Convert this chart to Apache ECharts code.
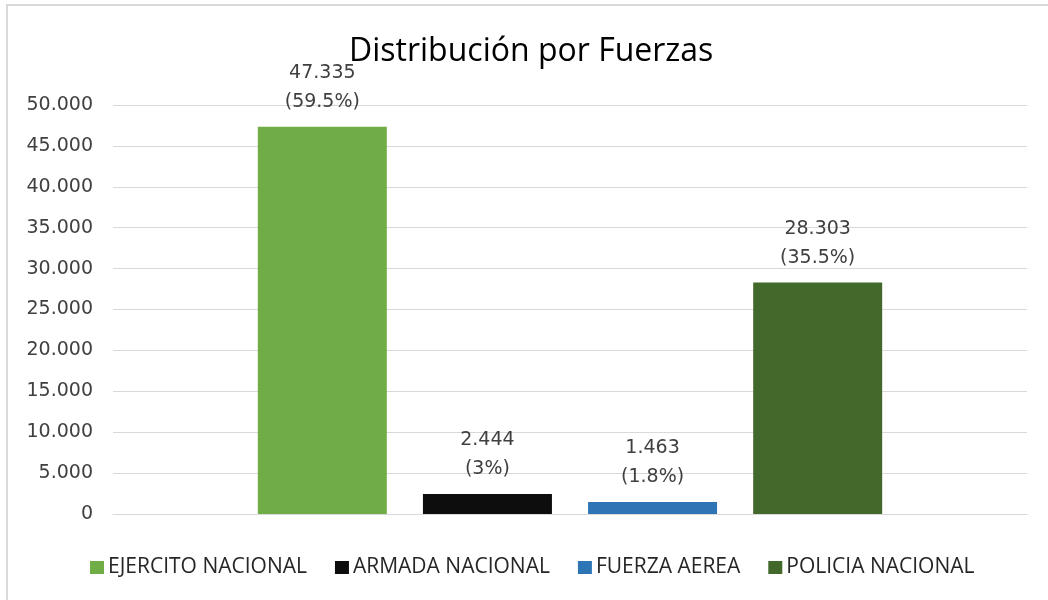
<!DOCTYPE html>
<html><head><meta charset="utf-8">
<script src="https://cdn.jsdelivr.net/npm/echarts@6/dist/echarts.min.js"></script>
<style>html,body{margin:0;padding:0;background:#fff}#c{width:1048px;height:600px}</style>
</head><body><div id="c"></div>
<script>
const seriesNames = ['EJERCITO NACIONAL', 'ARMADA NACIONAL', 'FUERZA AEREA', 'POLICIA NACIONAL'];
const values = [47335, 2444, 1463, 28303];
const percents = ['59.5%', '3%', '1.8%', '35.5%'];
const colors = ['#70ad47', '#0d0d0d', '#2e75b6', '#43682b'];
const titleText = 'Distribución por Fuerzas';

function fmt(v) { return String(v).replace(/\B(?=(\d{3})+(?!\d))/g, '.'); }

const font = '"Open Sans", "Noto Sans", sans-serif';
const numFont = '"DejaVu Sans", sans-serif';
const chart = echarts.init(document.getElementById('c'));
chart.setOption({
  animation: false,
  title: { text: titleText, left: 344, top: 31, textStyle: { fontFamily: font, fontSize: 32, fontWeight: 'normal', color: '#000' } },
  graphic: [
    { type: 'rect', shape: { x: 7, y: 5, width: 1100, height: 700 }, style: { fill: 'none', stroke: '#d9d9d9', lineWidth: 2 }, silent: true }
  ],
  legend: {
    top: 552, left: 85, itemWidth: 14, itemHeight: 13, itemGap: 28, icon: 'rect',
    textStyle: { fontFamily: font, fontSize: 21, color: '#262626', padding: [0, 0, 0, -1] }
  },
  grid: { left: 113, right: 21, top: 105, bottom: 86, containLabel: false },
  xAxis: { type: 'category', data: [''], axisLine: { lineStyle: { color: '#d9d9d9' } }, axisTick: { show: false }, axisLabel: { show: false } },
  yAxis: {
    type: 'value', min: 0, max: 50000, interval: 5000,
    axisLine: { show: false }, axisTick: { show: false },
    splitLine: { lineStyle: { color: '#d9d9d9' } },
    axisLabel: { formatter: v => fmt(v), fontFamily: numFont, fontSize: 19, color: '#404040', margin: 20 }
  },
  series: seriesNames.map((n, i) => ({
    name: n, type: 'bar', data: [values[i]], barWidth: 129, barGap: '28%',
    itemStyle: { color: colors[i] },
    label: { show: true, position: 'top', distance: 10, formatter: () => fmt(values[i]) + '\n(' + percents[i] + ')', fontFamily: numFont, fontSize: 19, lineHeight: 29, color: '#404040' }
  }))
});
</script></body></html>
